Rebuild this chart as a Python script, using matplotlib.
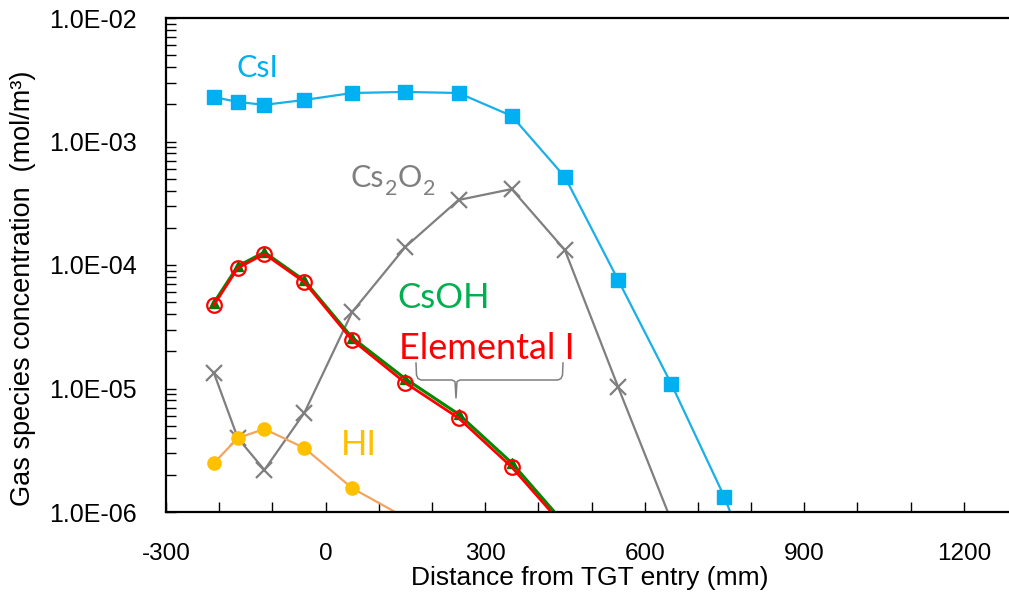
import matplotlib
matplotlib.use("Agg")
import matplotlib.pyplot as plt
from matplotlib.lines import Line2D
from matplotlib.ticker import FixedLocator, LogLocator, NullFormatter, FuncFormatter

plt.rcParams["axes.unicode_minus"] = False

# Axial positions (mm) of the sampling points
x_pos = [-210, -165, -115, -40, 50, 150, 250, 350, 450, 550, 650, 750, 850]

# Gas species concentrations (mol/m3)
csi = [2.29e-3, 2.09e-3, 1.98e-3, 2.17e-3, 2.47e-3, 2.52e-3, 2.47e-3, 1.61e-3,
       5.16e-4, 7.57e-5, 1.09e-5, 1.32e-6, 1.0e-7]
cs2o2 = [1.34e-5, 3.97e-6, 2.19e-6, 6.34e-6, 4.16e-5, 1.40e-4, 3.36e-4, 4.12e-4,
         1.32e-4, 1.03e-5, 8.5e-7]
csoh = [4.95e-5, 9.8e-5, 1.27e-4, 7.5e-5, 2.58e-5, 1.2e-5, 6.2e-6, 2.5e-6, 8.0e-7, 1.0e-7]
elem_i = [4.74e-5, 9.46e-5, 1.23e-4, 7.28e-5, 2.47e-5, 1.11e-5, 5.77e-6, 2.31e-6, 7.5e-7, 1.0e-7]
hi = [2.49e-6, 3.97e-6, 4.70e-6, 3.30e-6, 1.56e-6, 9.0e-7]

x_ticks = [-300, 0, 300, 600, 900, 1200]
y_ticks = [1e-6, 1e-5, 1e-4, 1e-3, 1e-2]

W, H = 1009, 605
fig = plt.figure(figsize=(W / 100, H / 100), dpi=100)
ax = fig.add_axes([166 / W, 1 - 512 / H, (1017 - 166) / W, (512 - 18) / H])

ax.plot(x_pos[:len(csi)], csi, color="#1AAFE6", lw=1.6, marker="s", ms=9.5,
        mfc="#00B0F0", mec="#00B0F0")
ax.plot(x_pos[:len(cs2o2)], cs2o2, color="#7F7F7F", lw=1.6, marker="x", ms=11,
        mew=1.6)
ax.plot(x_pos[:len(hi)], hi, color="#F4A460", lw=1.6, marker="o", ms=9.5,
        mfc="#FFC000", mec="#FFC000")
ax.plot(x_pos[:len(csoh)], csoh, color="#008A00", lw=2.2, marker="^", ms=7,
        mfc="#007A00", mec="#007A00")
ax.plot(x_pos[:len(elem_i)], elem_i, color="#FF0000", lw=2.0, marker="o", ms=10.5,
        mfc="none", mec="#FF0000", mew=1.6)

ax.set_yscale("log")
ax.set_xlim(-300, 1300)
ax.set_ylim(1e-6, 1e-2)

ax.xaxis.set_major_locator(FixedLocator(x_ticks))
ax.xaxis.set_minor_locator(FixedLocator(list(range(-300, 1301, 100))))
ax.yaxis.set_major_locator(FixedLocator(y_ticks))
ax.yaxis.set_minor_locator(LogLocator(base=10, subs=range(2, 10)))
ax.yaxis.set_minor_formatter(NullFormatter())
ax.yaxis.set_major_formatter(FuncFormatter(lambda v, p: f"{v:.1E}"))

tick_font = "Liberation Sans"
ax.tick_params(axis="both", which="both", direction="in", length=7, width=1.0,
               colors="black")
ax.tick_params(axis="y", labelsize=18, pad=21)
ax.tick_params(axis="x", labelsize=17.5, pad=22)
for lab in ax.get_xticklabels() + ax.get_yticklabels():
    lab.set_fontfamily(tick_font)

for side in ("left", "bottom", "top"):
    ax.spines[side].set_linewidth(1.6)
    ax.spines[side].set_color("black")
ax.spines["right"].set_visible(False)

fig.text(23 / W, 1 - 288 / H, "Gas species concentration  (mol/m³)", rotation=90,
         ha="center", va="center", fontsize=19.5, fontfamily=tick_font)
fig.text(590 / W, 1 - 578 / H, "Distance from TGT entry (mm)", ha="center",
         va="center", fontsize=19, fontfamily=tick_font)

lab_font = "Lato"
fig.text(236 / W, 1 - 77 / H, "CsI", color="#00B0F0", fontsize=22, ha="left",
         va="baseline", fontfamily=lab_font)
fig.text(397 / W, 1 - 308 / H, "CsOH", color="#00B050", fontsize=25, ha="left",
         va="baseline", fontfamily=lab_font)
fig.text(399 / W, 1 - 359 / H, "Elemental I", color="#FF0000", fontsize=26,
         ha="left", va="baseline", fontfamily=lab_font)
fig.text(341 / W, 1 - 455 / H, "HI", color="#FFC000", fontsize=25, ha="left",
         va="baseline", fontfamily=lab_font)

# Cs2O2 label built piece by piece so the subscripts sit low like in the source font
renderer = fig.canvas.get_renderer()
x_cursor = 351.0
for piece, size, drop in [("Cs", 22, 0), ("2", 15.5, 8), ("O", 22, 0), ("2", 15.5, 8)]:
    t = fig.text(x_cursor / W, 1 - (187 + drop) / H, piece, color="#7F7F7F",
                 fontsize=size, ha="left", va="baseline", fontfamily=lab_font)
    x_cursor += t.get_window_extent(renderer).width + 0.5

# Curly brace grouping the CsOH and Elemental I curves
bx = [416, 416.5, 418, 421, 452, 455, 456, 457, 460, 558, 561, 562.5, 563]
by = [363, 375, 378.5, 380, 380, 381.5, 398, 381.5, 380, 380, 378.5, 375, 363]
fig.add_artist(Line2D([v / W for v in bx], [1 - v / H for v in by],
                      transform=fig.transFigure, color="#7F7F7F", lw=1.1))

fig.savefig("out.png", dpi=100)
